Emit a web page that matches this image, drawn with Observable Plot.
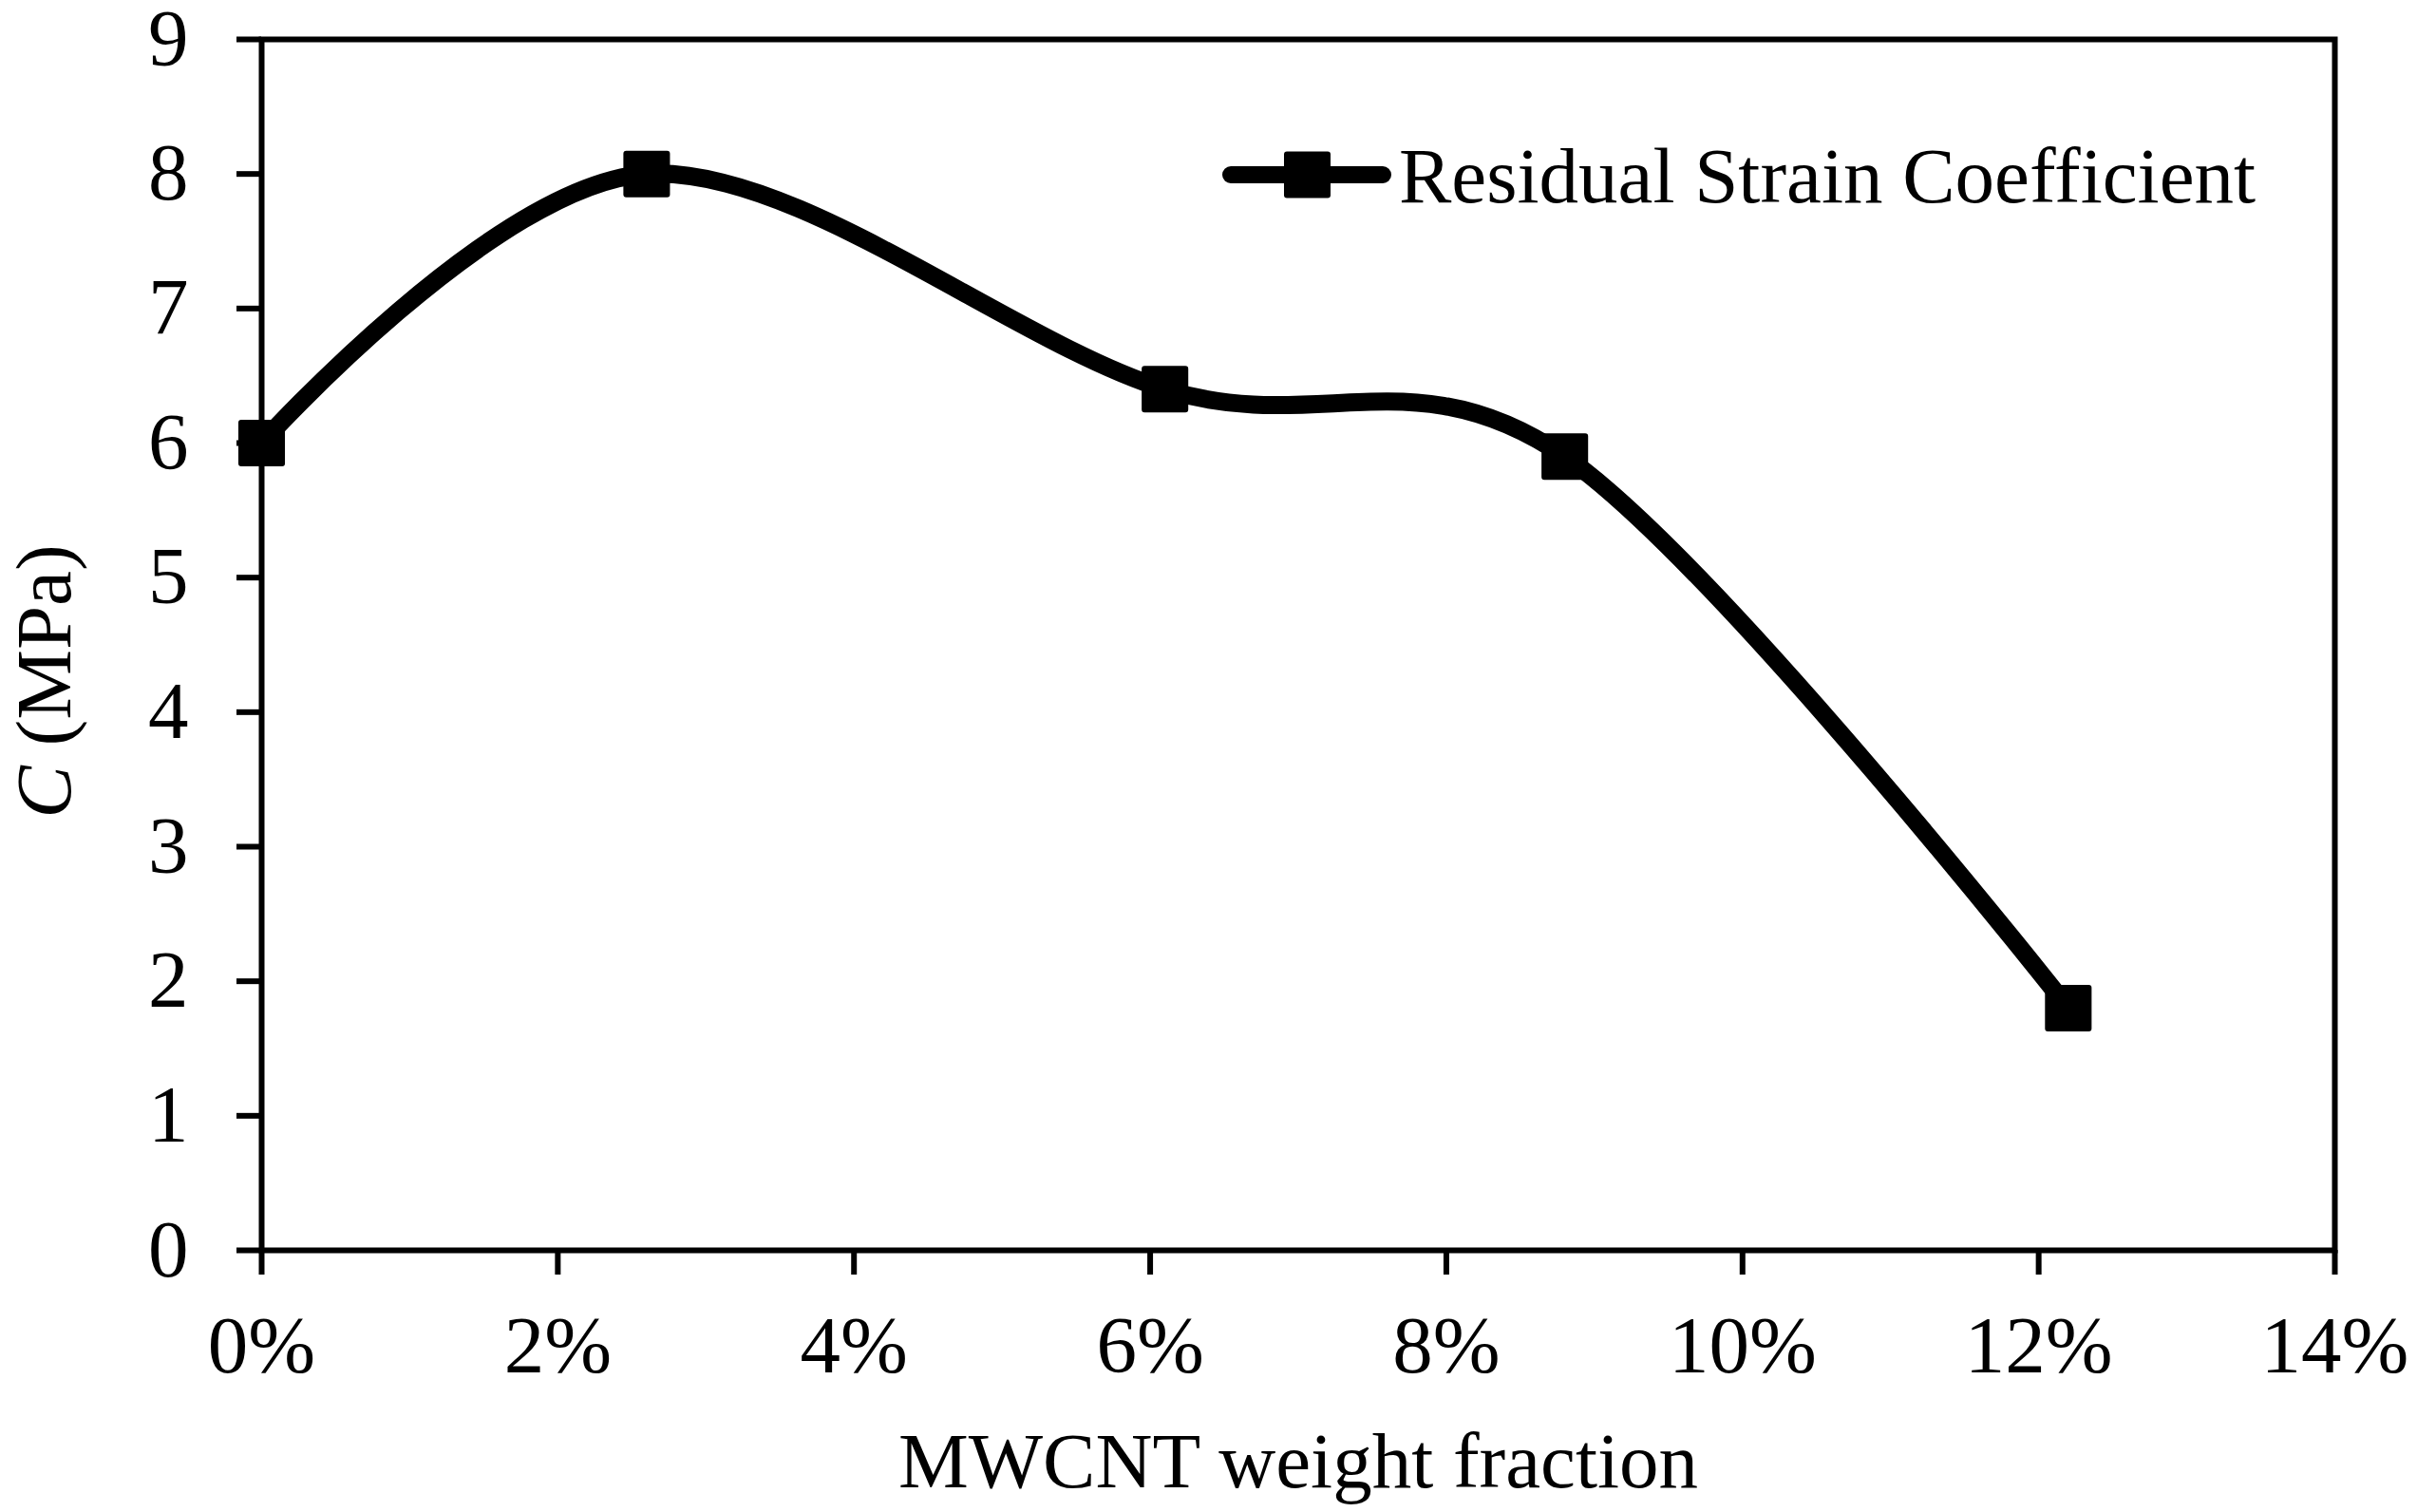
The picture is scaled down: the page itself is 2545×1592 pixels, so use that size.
<!DOCTYPE html>
<html>
<head>
<meta charset="utf-8">
<script src="https://cdn.jsdelivr.net/npm/d3@7"></script>
<script src="https://cdn.jsdelivr.net/npm/@observablehq/plot@0.6"></script>
<style>
  html, body { margin: 0; padding: 0; background: #fff; overflow: hidden; }
  #wrap { position: relative; width: 2545px; height: 1592px; }
  #legend { position: absolute; left: 0; top: 0; pointer-events: none; }
</style>
</head>
<body>
<div id="wrap"></div>
<script>
// ---- data ----
const fractions = [0, 2.6, 6.1, 8.8, 12.2];          // MWCNT weight fraction (%)
const coefficients = [6.0, 8.0, 6.4, 5.9, 1.8];      // C (MPa)
const xTicks = [0, 2, 4, 6, 8, 10, 12, 14];
const yTicks = [0, 1, 2, 3, 4, 5, 6, 7, 8, 9];
const seriesName = "Residual Strain Coefficient";
const xTitle = "MWCNT weight fraction";
const yTitle = "C (MPa)";

const data = fractions.map((x, i) => ({x, y: coefficients[i]}));
const font = "'Liberation Serif', 'Times New Roman', Times, serif";

const chart = Plot.plot({
  width: 2545,
  height: 1592,
  marginLeft: 275,
  marginRight: 87,
  marginTop: 41,
  marginBottom: 276,
  style: {fontFamily: font, fontSize: "85px", background: "white", color: "black"},
  x: {domain: [0, 14]},
  y: {domain: [0, 9]},
  marks: [
    Plot.axisX({ticks: xTicks, tickFormat: d => d + "%", tickSize: 26, tickPadding: 42, strokeWidth: 6, fontSize: 85, label: null}),
    Plot.axisY({ticks: yTicks, tickSize: 26, tickPadding: 51, strokeWidth: 6, fontSize: 85, label: null}),
    Plot.frame({stroke: "black", strokeWidth: 6}),
    Plot.line(data, {x: "x", y: "y", stroke: "black", strokeWidth: 19, curve: "cardinal", strokeLinecap: "round", strokeLinejoin: "round"}),
    Plot.dot(data, {x: "x", y: "y", symbol: "square", r: 24.3, fill: "black", stroke: "black", strokeWidth: 6, strokeLinejoin: "round"}),
    Plot.text([xTitle], {text: d => d, frameAnchor: "bottom", textAnchor: "middle", lineAnchor: "bottom", dy: 249, fontSize: 83}),
    Plot.text([yTitle], {text: d => d, frameAnchor: "left", textAnchor: "middle", rotate: -90, lineAnchor: "bottom", dx: -202, dy: 38.5, fontSize: 83})
  ]
});

// italic "C" in the y title
chart.querySelectorAll("text").forEach(t => {
  if (t.textContent === yTitle) {
    t.textContent = "";
    const ns = "http://www.w3.org/2000/svg";
    const a = document.createElementNS(ns, "tspan");
    a.setAttribute("font-style", "italic");
    a.textContent = "C";
    const b = document.createElementNS(ns, "tspan");
    b.textContent = " (MPa)";
    t.appendChild(a);
    t.appendChild(b);
  }
});

const wrap = document.getElementById("wrap");
wrap.appendChild(chart);

// legend (inside plot area, top right)
const ns = "http://www.w3.org/2000/svg";
const lg = document.createElementNS(ns, "svg");
lg.setAttribute("id", "legend");
lg.setAttribute("width", 2545);
lg.setAttribute("height", 1592);
lg.innerHTML =
  `<line x1="1296" y1="184" x2="1456" y2="184" stroke="black" stroke-width="18" stroke-linecap="round"/>` +
  `<rect x="1355" y="162.5" width="43" height="43" fill="black" stroke="black" stroke-width="6" stroke-linejoin="round"/>` +
  `<text x="1473" y="213" font-family="${font.replace(/'/g, "&quot;")}" font-size="83" fill="black"></text>`;
lg.querySelector("text").textContent = seriesName;
wrap.appendChild(lg);
</script>
</body>
</html>
